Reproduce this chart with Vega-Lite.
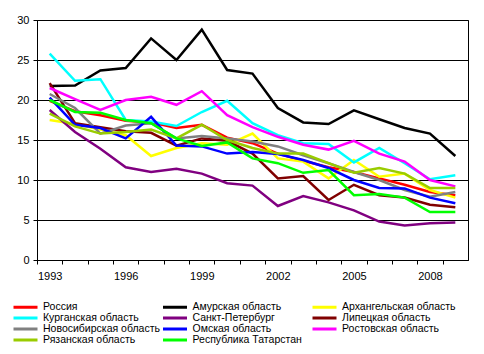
{
  "$schema": "https://vega.github.io/schema/vega-lite/v6.json",
  "width": 431,
  "height": 240,
  "autosize": "none",
  "padding": {"left": 37, "top": 20, "right": 16, "bottom": 94},
  "background": "white",
  "config": {
    "view": {"stroke": "black", "strokeWidth": 1},
    "font": "Liberation Sans",
    "axis": {"labelFont": "Liberation Sans", "labelFontSize": 11, "labelColor": "black", "domainColor": "black", "tickColor": "black", "tickSize": 4, "title": null},
    "legend": {"labelFont": "Liberation Sans", "labelFontSize": 10.5, "labelColor": "black"}
  },
  "data": {"values": [
    {"r":"Россия","year":1993,"v":19.9},{"r":"Россия","year":1994,"v":18.6},{"r":"Россия","year":1995,"v":18.1},{"r":"Россия","year":1996,"v":17.4},{"r":"Россия","year":1997,"v":17.2},{"r":"Россия","year":1998,"v":16.5},{"r":"Россия","year":1999,"v":16.9},{"r":"Россия","year":2000,"v":15.3},{"r":"Россия","year":2001,"v":14.6},{"r":"Россия","year":2002,"v":13.3},{"r":"Россия","year":2003,"v":12.4},{"r":"Россия","year":2004,"v":11.6},{"r":"Россия","year":2005,"v":11.0},{"r":"Россия","year":2006,"v":10.2},{"r":"Россия","year":2007,"v":9.4},{"r":"Россия","year":2008,"v":8.5},{"r":"Россия","year":2009,"v":8.1},
    {"r":"Амурская область","year":1993,"v":21.75},{"r":"Амурская область","year":1994,"v":21.8},{"r":"Амурская область","year":1995,"v":23.7},{"r":"Амурская область","year":1996,"v":24.0},{"r":"Амурская область","year":1997,"v":27.7},{"r":"Амурская область","year":1998,"v":25.0},{"r":"Амурская область","year":1999,"v":28.8},{"r":"Амурская область","year":2000,"v":23.75},{"r":"Амурская область","year":2001,"v":23.3},{"r":"Амурская область","year":2002,"v":19.0},{"r":"Амурская область","year":2003,"v":17.2},{"r":"Амурская область","year":2004,"v":17.0},{"r":"Амурская область","year":2005,"v":18.7},{"r":"Амурская область","year":2006,"v":17.6},{"r":"Амурская область","year":2007,"v":16.5},{"r":"Амурская область","year":2008,"v":15.8},{"r":"Амурская область","year":2009,"v":13.0},
    {"r":"Архангельская область","year":1993,"v":17.5},{"r":"Архангельская область","year":1994,"v":17.0},{"r":"Архангельская область","year":1995,"v":16.3},{"r":"Архангельская область","year":1996,"v":15.6},{"r":"Архангельская область","year":1997,"v":13.0},{"r":"Архангельская область","year":1998,"v":14.0},{"r":"Архангельская область","year":1999,"v":14.6},{"r":"Архангельская область","year":2000,"v":14.4},{"r":"Архангельская область","year":2001,"v":15.8},{"r":"Архангельская область","year":2002,"v":12.7},{"r":"Архангельская область","year":2003,"v":12.3},{"r":"Архангельская область","year":2004,"v":10.2},{"r":"Архангельская область","year":2005,"v":12.5},{"r":"Архангельская область","year":2006,"v":10.4},{"r":"Архангельская область","year":2007,"v":10.8},{"r":"Архангельская область","year":2008,"v":8.75},{"r":"Архангельская область","year":2009,"v":7.8},
    {"r":"Курганская область","year":1993,"v":25.8},{"r":"Курганская область","year":1994,"v":22.4},{"r":"Курганская область","year":1995,"v":22.6},{"r":"Курганская область","year":1996,"v":17.5},{"r":"Курганская область","year":1997,"v":17.3},{"r":"Курганская область","year":1998,"v":16.75},{"r":"Курганская область","year":1999,"v":18.5},{"r":"Курганская область","year":2000,"v":19.9},{"r":"Курганская область","year":2001,"v":17.1},{"r":"Курганская область","year":2002,"v":15.6},{"r":"Курганская область","year":2003,"v":14.6},{"r":"Курганская область","year":2004,"v":14.5},{"r":"Курганская область","year":2005,"v":12.2},{"r":"Курганская область","year":2006,"v":14.0},{"r":"Курганская область","year":2007,"v":12.1},{"r":"Курганская область","year":2008,"v":10.1},{"r":"Курганская область","year":2009,"v":10.6},
    {"r":"Санкт-Петербург","year":1993,"v":18.75},{"r":"Санкт-Петербург","year":1994,"v":16.0},{"r":"Санкт-Петербург","year":1995,"v":13.9},{"r":"Санкт-Петербург","year":1996,"v":11.6},{"r":"Санкт-Петербург","year":1997,"v":11.0},{"r":"Санкт-Петербург","year":1998,"v":11.4},{"r":"Санкт-Петербург","year":1999,"v":10.8},{"r":"Санкт-Петербург","year":2000,"v":9.6},{"r":"Санкт-Петербург","year":2001,"v":9.3},{"r":"Санкт-Петербург","year":2002,"v":6.75},{"r":"Санкт-Петербург","year":2003,"v":8.0},{"r":"Санкт-Петербург","year":2004,"v":7.2},{"r":"Санкт-Петербург","year":2005,"v":6.2},{"r":"Санкт-Петербург","year":2006,"v":4.8},{"r":"Санкт-Петербург","year":2007,"v":4.3},{"r":"Санкт-Петербург","year":2008,"v":4.6},{"r":"Санкт-Петербург","year":2009,"v":4.7},
    {"r":"Липецкая область","year":1993,"v":22.1},{"r":"Липецкая область","year":1994,"v":17.1},{"r":"Липецкая область","year":1995,"v":16.6},{"r":"Липецкая область","year":1996,"v":16.1},{"r":"Липецкая область","year":1997,"v":15.9},{"r":"Липецкая область","year":1998,"v":14.3},{"r":"Липецкая область","year":1999,"v":15.2},{"r":"Липецкая область","year":2000,"v":14.9},{"r":"Липецкая область","year":2001,"v":13.3},{"r":"Липецкая область","year":2002,"v":10.2},{"r":"Липецкая область","year":2003,"v":10.5},{"r":"Липецкая область","year":2004,"v":7.5},{"r":"Липецкая область","year":2005,"v":9.4},{"r":"Липецкая область","year":2006,"v":8.1},{"r":"Липецкая область","year":2007,"v":7.8},{"r":"Липецкая область","year":2008,"v":6.9},{"r":"Липецкая область","year":2009,"v":6.6},
    {"r":"Новосибирская область","year":1993,"v":20.75},{"r":"Новосибирская область","year":1994,"v":19.0},{"r":"Новосибирская область","year":1995,"v":15.8},{"r":"Новосибирская область","year":1996,"v":16.8},{"r":"Новосибирская область","year":1997,"v":17.1},{"r":"Новосибирская область","year":1998,"v":15.2},{"r":"Новосибирская область","year":1999,"v":15.5},{"r":"Новосибирская область","year":2000,"v":15.2},{"r":"Новосибирская область","year":2001,"v":14.8},{"r":"Новосибирская область","year":2002,"v":14.2},{"r":"Новосибирская область","year":2003,"v":13.1},{"r":"Новосибирская область","year":2004,"v":12.1},{"r":"Новосибирская область","year":2005,"v":11.0},{"r":"Новосибирская область","year":2006,"v":10.0},{"r":"Новосибирская область","year":2007,"v":8.75},{"r":"Новосибирская область","year":2008,"v":7.9},{"r":"Новосибирская область","year":2009,"v":8.5},
    {"r":"Омская область","year":1993,"v":20.3},{"r":"Омская область","year":1994,"v":16.9},{"r":"Омская область","year":1995,"v":16.5},{"r":"Омская область","year":1996,"v":15.2},{"r":"Омская область","year":1997,"v":17.9},{"r":"Омская область","year":1998,"v":14.3},{"r":"Омская область","year":1999,"v":14.2},{"r":"Омская область","year":2000,"v":13.3},{"r":"Омская область","year":2001,"v":13.5},{"r":"Омская область","year":2002,"v":13.25},{"r":"Омская область","year":2003,"v":12.5},{"r":"Омская область","year":2004,"v":11.5},{"r":"Омская область","year":2005,"v":10.0},{"r":"Омская область","year":2006,"v":9.0},{"r":"Омская область","year":2007,"v":8.95},{"r":"Омская область","year":2008,"v":7.8},{"r":"Омская область","year":2009,"v":7.1},
    {"r":"Ростовская область","year":1993,"v":21.5},{"r":"Ростовская область","year":1994,"v":20.1},{"r":"Ростовская область","year":1995,"v":18.75},{"r":"Ростовская область","year":1996,"v":20.0},{"r":"Ростовская область","year":1997,"v":20.4},{"r":"Ростовская область","year":1998,"v":19.4},{"r":"Ростовская область","year":1999,"v":21.1},{"r":"Ростовская область","year":2000,"v":18.1},{"r":"Ростовская область","year":2001,"v":16.6},{"r":"Ростовская область","year":2002,"v":15.4},{"r":"Ростовская область","year":2003,"v":14.4},{"r":"Ростовская область","year":2004,"v":13.8},{"r":"Ростовская область","year":2005,"v":14.9},{"r":"Ростовская область","year":2006,"v":13.3},{"r":"Ростовская область","year":2007,"v":12.3},{"r":"Ростовская область","year":2008,"v":10.0},{"r":"Ростовская область","year":2009,"v":9.2},
    {"r":"Рязанская область","year":1993,"v":18.3},{"r":"Рязанская область","year":1994,"v":16.7},{"r":"Рязанская область","year":1995,"v":15.8},{"r":"Рязанская область","year":1996,"v":16.0},{"r":"Рязанская область","year":1997,"v":16.3},{"r":"Рязанская область","year":1998,"v":15.2},{"r":"Рязанская область","year":1999,"v":16.9},{"r":"Рязанская область","year":2000,"v":15.0},{"r":"Рязанская область","year":2001,"v":14.0},{"r":"Рязанская область","year":2002,"v":13.3},{"r":"Рязанская область","year":2003,"v":13.3},{"r":"Рязанская область","year":2004,"v":12.1},{"r":"Рязанская область","year":2005,"v":10.9},{"r":"Рязанская область","year":2006,"v":11.5},{"r":"Рязанская область","year":2007,"v":10.8},{"r":"Рязанская область","year":2008,"v":9.0},{"r":"Рязанская область","year":2009,"v":9.0},
    {"r":"Республика Татарстан","year":1993,"v":20.0},{"r":"Республика Татарстан","year":1994,"v":18.5},{"r":"Республика Татарстан","year":1995,"v":18.4},{"r":"Республика Татарстан","year":1996,"v":17.5},{"r":"Республика Татарстан","year":1997,"v":17.1},{"r":"Республика Татарстан","year":1998,"v":15.2},{"r":"Республика Татарстан","year":1999,"v":14.25},{"r":"Республика Татарстан","year":2000,"v":14.7},{"r":"Республика Татарстан","year":2001,"v":12.7},{"r":"Республика Татарстан","year":2002,"v":12.1},{"r":"Республика Татарстан","year":2003,"v":10.9},{"r":"Республика Татарстан","year":2004,"v":11.25},{"r":"Республика Татарстан","year":2005,"v":8.1},{"r":"Республика Татарстан","year":2006,"v":8.25},{"r":"Республика Татарстан","year":2007,"v":7.8},{"r":"Республика Татарстан","year":2008,"v":6.0},{"r":"Республика Татарстан","year":2009,"v":6.0}
  ]},
  "mark": {"type": "line", "strokeWidth": 2.5, "clip": true},
  "encoding": {
    "x": {
      "field": "year", "type": "quantitative",
      "scale": {"domain": [1992.5, 2009.5], "nice": false, "zero": false},
      "axis": {
        "values": [1993,1994,1995,1996,1997,1998,1999,2000,2001,2002,2003,2004,2005,2006,2007,2008,2009],
        "labelExpr": "(datum.value - 1993) % 3 == 0 ? '' + datum.value : ''",
        "tickOffset": -12.68, "labelOffset": 12.68,
        "grid": false, "labelPadding": 6, "labelFlush": false, "labelOverlap": false
      }
    },
    "y": {
      "field": "v", "type": "quantitative",
      "scale": {"domain": [0, 30], "nice": false},
      "axis": {"values": [0,5,10,15,20,25,30], "grid": true, "gridColor": "black", "gridOpacity": 1, "gridWidth": 1, "labelPadding": 4}
    },
    "color": {
      "field": "r", "type": "nominal",
      "scale": {
        "domain": ["Россия","Курганская область","Новосибирская область","Рязанская область","Амурская область","Санкт-Петербург","Омская область","Республика Татарстан","Архангельская область","Липецкая область","Ростовская область"],
        "range": ["#FF0000","#00FFFF","#808080","#99CC00","#000000","#800080","#0000FF","#00FF00","#FFFF00","#800000","#FF00FF"]
      },
      "legend": {
        "title": null, "orient": "none", "legendX": -25, "legendY": 282,
        "columns": 3, "symbolType": "M-1,0H3.8", "symbolSize": 100, "symbolStrokeWidth": 3,
        "clipHeight": 10, "rowPadding": -0.5, "columnPadding": 1.5, "labelOffset": 18, "labelLimit": 300, "gridAlign": "all", "padding": 0
      }
    }
  }
}
